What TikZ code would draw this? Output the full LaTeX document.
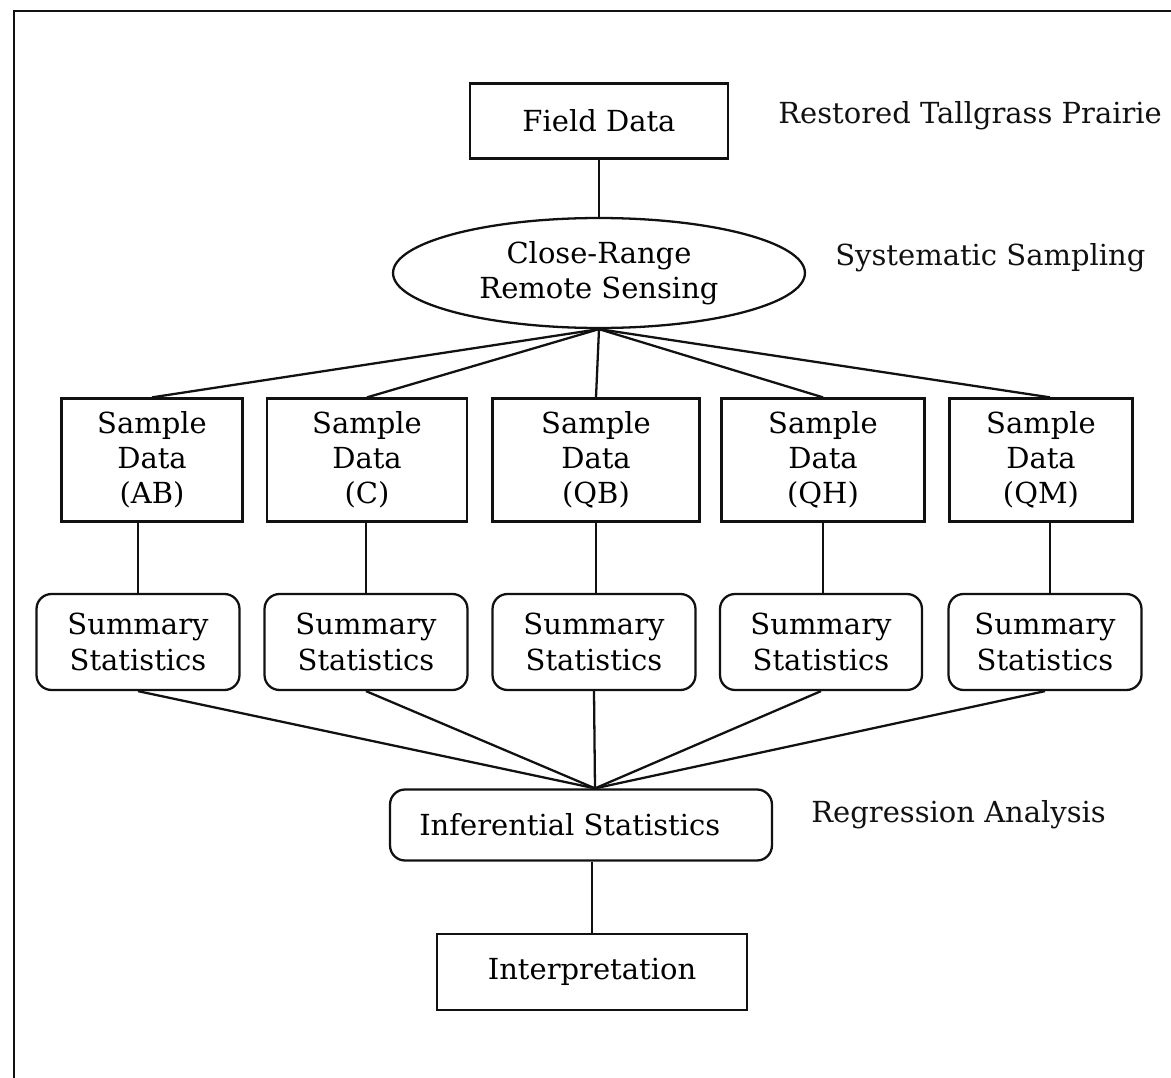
\documentclass[tikz,border=0pt]{standalone}
\usepackage{fontspec}
\setmainfont{DejaVu Serif}
\usetikzlibrary{shapes,arrows.meta,positioning,calc}
\usepackage{xcolor}
\definecolor{flInk}{HTML}{111111}
\newcommand{\lblfont}{\fontsize{16.5}{20}\selectfont}
\tikzset{
  box/.style={draw=flInk, line width=1.3pt, inner sep=2pt, align=center, font=\lblfont},
  rbox/.style={box, rounded corners=0.3cm},
  oval/.style={box, ellipse, inner sep=0pt},
  lnk/.style={draw=flInk, line width=1.3pt},
  side/.style={anchor=west, inner sep=0pt, font=\lblfont, text=flInk},
}

\begin{document}
\begin{tikzpicture}[x=0.02cm, y=-0.02cm]
        \useasboundingbox (0,0) rectangle (1171,1078);
        % ---------- frame ----------
        \draw[lnk] (14,1078) -- (14,11) -- (1171,11);
        % ---------- field data and sensing ----------
        \node[box, minimum width=5.16cm, minimum height=1.5cm] (fd) at (599,121) {Field Data};
        \node[oval, minimum width=8.24cm, minimum height=2.2cm] (crs) at (599,273) {Close-Range\\Remote Sensing};
        \node[side] (lblA) at (778,116) {Restored Tallgrass Prairie};
        \node[side] (lblB) at (835,258) {Systematic Sampling};
        \draw[lnk] (fd.south) -- (crs.north);
        % ---------- sample data ----------
        \node[box, minimum width=3.62cm, minimum height=2.46cm] (sd1) at (152,460) {Sample\\Data\\(AB)};
        \node[box, minimum width=4.00cm, minimum height=2.46cm] (sd2) at (367,460) {Sample\\Data\\(C)};
        \node[box, minimum width=4.14cm, minimum height=2.46cm] (sd3) at (596,460) {Sample\\Data\\(QB)};
        \node[box, minimum width=4.06cm, minimum height=2.46cm] (sd4) at (823,460) {Sample\\Data\\(QH)};
        \node[box, minimum width=3.66cm, minimum height=2.46cm] (sd5) at (1041,460) {Sample\\Data\\(QM)};
        \draw[lnk] (crs.south) -- (sd1.north);
        \draw[lnk] (crs.south) -- (sd2.north);
        \draw[lnk] (crs.south) -- (sd3.north);
        \draw[lnk] (crs.south) -- (sd4.north);
        \draw[lnk] (crs.south) -- ($(sd5.north)+(9,0)$);
        % ---------- summary statistics ----------
        \node[rbox, minimum width=4.06cm, minimum height=1.92cm] (ss1) at (138,642) {Summary\\Statistics};
        \node[rbox, minimum width=4.06cm, minimum height=1.92cm] (ss2) at (366,642) {Summary\\Statistics};
        \node[rbox, minimum width=4.06cm, minimum height=1.92cm] (ss3) at (594,642) {Summary\\Statistics};
        \node[rbox, minimum width=4.04cm, minimum height=1.92cm] (ss4) at (821,642) {Summary\\Statistics};
        \node[rbox, minimum width=3.86cm, minimum height=1.92cm] (ss5) at (1045,642) {Summary\\Statistics};
        \draw[lnk] (ss1.north) -- (ss1.north |- sd1.south);
        \draw[lnk] (ss2.north) -- (ss2.north |- sd2.south);
        \draw[lnk] (sd3.south) -- (sd3.south |- ss3.north);
        \draw[lnk] (sd4.south) -- (sd4.south |- ss4.north);
        \draw[lnk] ($(sd5.south)+(9,0)$) -- ($(sd5.south |- ss5.north)+(9,0)$);
        % ---------- inference ----------
        \node[rbox, minimum width=7.64cm, minimum height=1.42cm] (inf) at (581,825) {Inferential Statistics\hspace{0.45cm}};
        \node[side] (lblC) at (811,815) {Regression Analysis};
        \coordinate (hub) at ($(inf.north)+(14,0)$);
        \draw[lnk] (ss1.south) -- (hub);
        \draw[lnk] (ss2.south) -- (hub);
        \draw[lnk] (ss3.south) -- (hub);
        \draw[lnk] (ss4.south) -- (hub);
        \draw[lnk] (ss5.south) -- (hub);
        % ---------- interpretation ----------
        \node[box, minimum width=6.2cm, minimum height=1.52cm] (itp) at (592,972) {Interpretation};
        \draw[lnk] (itp.north |- inf.south) -- (itp.north);
\end{tikzpicture}
\end{document}
